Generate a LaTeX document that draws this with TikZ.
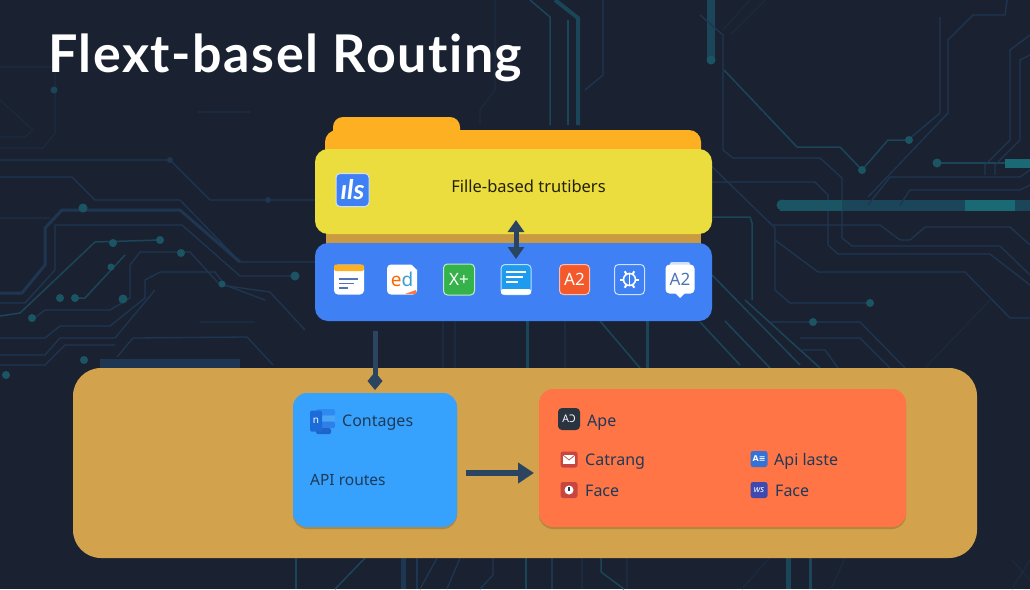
\documentclass[tikz,border=0pt]{standalone}
\usepackage{fontspec}
\setmainfont{Noto Sans}
\newfontfamily\titlefont[LetterSpace=3,Ligatures=NoCommon]{Lato}
\newfontfamily\logofont{Lato}
\newfontfamily\symfont{DejaVu Sans}
\usetikzlibrary{arrows.meta,shadows}
\definecolor{bgc}{HTML}{1A2231}
\definecolor{trblue}{HTML}{1F3652}
\definecolor{trdim}{HTML}{1C2A40}
\definecolor{trteal}{HTML}{1B4558}
\definecolor{dotteal}{HTML}{1B5564}
\definecolor{barc}{HTML}{1A6A75}
\definecolor{arrowc}{HTML}{2B4560}
\definecolor{inkc}{HTML}{1F3A58}
\definecolor{yellowc}{HTML}{ECDD3E}
\definecolor{folderc}{HTML}{FDB022}
\definecolor{stripc}{HTML}{C99A3F}
\definecolor{bluec}{HTML}{3F81F4}
\definecolor{tanc}{HTML}{D2A24C}
\definecolor{apic}{HTML}{36A2FD}
\definecolor{orangec}{HTML}{FF7545}
\definecolor{steelc}{HTML}{4F74B8}
\tikzset{
  tra/.style={draw=trblue,line width=1.3pt,line join=round},
  trb/.style={draw=trdim,line width=1.1pt,line join=round},
  trc/.style={draw=trteal,line width=1.5pt,line join=round},
  trk/.style={draw=trblue,line width=3pt,line join=round},
  pad/.style={fill=dotteal,circle,inner sep=0pt,minimum size=#1},
  pad/.default=8pt,
  panel/.style={inner sep=0pt,outer sep=0pt,rounded corners=13pt},
  cardshadow/.style={drop shadow={shadow xshift=0pt,shadow yshift=-2pt,opacity=.16,fill=black}},
  ico/.style={inner sep=0pt,outer sep=0pt,rounded corners=4pt,minimum width=#1,minimum height=#1,align=center},
  mini/.style={inner sep=0pt,outer sep=0pt,rounded corners=2.5pt,minimum width=17pt,minimum height=16pt},
  lab/.style={anchor=base west,inner sep=0pt,text=inkc,font=\fontsize{16}{18}\selectfont},
  flow/.style={draw=arrowc,line width=5pt},
}
\begin{document}
\begin{tikzpicture}[x=1pt,y=-1pt]
\useasboundingbox (0,0) rectangle (1030,589);
\fill[bgc] (0,0) rectangle (1030,589);
% circuit traces: left
\draw[trb] (0,67)--(55,67)--(55,133)--(43,148)--(0,148);
\draw[trb] (0,100)--(33,130)--(25,137)--(0,137);
\draw[tra] (0,160)--(170,160)--(210,200)--(315,200);
\draw[tra] (0,177)--(72,177)--(95,200)--(180,200)--(240,262)--(315,262);
\draw[trk] (0,293)--(22,293)--(45,265)--(45,228)--(62,210)--(180,210)--(240,262);
\draw[tra] (0,303)--(25,303)--(55,270)--(55,225)--(182,225)--(240,276)--(295,276);
\draw[trb] (0,218)--(50,218);
\draw[trc] (0,316)--(20,313)--(95,242)--(160,240);
\draw[trc] (75,298)--(85,298)--(125,255);
\draw[tra] (32,320)--(45,310)--(110,310)--(130,298)--(130,265)--(140,252)--(190,252)--(220,285)--(270,292)--(305,330);
\draw[tra] (0,338)--(45,338)--(60,326)--(110,326)--(145,298)--(145,280)--(160,272)--(215,272)--(225,285)--(265,300);
\draw[tra] (0,355)--(45,355)--(60,338)--(115,338)--(155,290);
\draw[tra] (0,365)--(45,365)--(65,345)--(115,345);
\draw[tra] (117,357)--(133,338)--(247,337)--(273,365);
\draw[draw=trblue,line width=9pt] (100,363)--(240,363);
\draw[trb] (200,322)--(255,322);
\draw[trb] (198,112)--(250,112);
\node[pad=6pt,fill=trblue] (l1) at (170,160) {};
\node[pad=6pt,fill=trblue] (l2) at (268,200) {};
\node[pad=9pt] (l3) at (83,208) {};
\node[pad=8pt] (l4) at (113,243) {};
\node[pad=8pt] (l5) at (160,240) {};
\node[pad=7pt] (l6) at (111,267) {};
\node[pad=8pt] (l7) at (60,298) {};
\node[pad=8pt] (l8) at (75,298) {};
\node[pad=9pt] (l9) at (123,299) {};
\node[pad=8pt] (l10) at (32,318) {};
\node[pad=8pt] (l11) at (181,253) {};
\node[pad=7pt] (l12) at (222,284) {};
\node[pad=9pt] (l13) at (295,276) {};
\node[pad=7pt,fill=trteal] (l14) at (54,90) {};
\node[pad=8pt] (l15) at (84,360) {};
\node[pad=8pt] (l16) at (6,375) {};
% right
\draw[trc] (724,70)--(797,147)--(840,147)--(862,170)--(888,140)--(908,140);
\draw[draw=trteal,line width=8pt] (711,0)--(711,60);
\draw[tra] (700,15)--(723,35)--(723,150)--(733,158)--(820,158)--(842,178)--(842,238)--(852,246)--(1000,246)--(1030,275);
\draw[tra] (700,182)--(815,182)--(828,195)--(828,245)--(838,254)--(990,254)--(1030,285);
\draw[trb] (730,35)--(765,0);
\draw[trb] (750,0)--(723,30);
\draw[draw=trteal,line width=11pt] (780,205)--(1030,205);
\draw[draw=dotteal,line width=11pt] (780,205)--(842,205);
\draw[draw=barc,line width=11pt] (965,205)--(1015,205);
\draw[trc] (937,163)--(1005,163);
\draw[draw=barc,line width=9pt] (1005,163)--(1030,163);
\draw[tra] (868,205)--(890,177)--(1020,177)--(1030,170);
\draw[tra] (900,205)--(910,190)--(1020,190)--(1030,185);
\draw[tra] (773,225)--(880,225)--(900,240)--(910,240)--(925,227)--(1010,227)--(1030,245);
\draw[trc] (713,217)--(750,217)--(752,223)--(752,300);
\draw[tra] (700,155)--(775,228)--(775,290)--(790,303)--(870,303);
\draw[tra] (775,240)--(818,272)--(965,272)--(1010,318)--(1030,318);
\draw[trc] (712,275)--(800,365);
\draw[trc] (700,322)--(740,365);
\draw[trc] (745,300)--(820,368);
\draw[tra] (770,322)--(860,322)--(905,368);
\draw[tra] (800,338)--(860,338)--(890,368);
\draw[tra] (800,350)--(825,350)--(838,368);
\draw[trb] (925,368)--(990,300);
\draw[tra] (1007,0)--(1005,15)--(973,15)--(948,40)--(948,113)--(868,197);
\draw[tra] (940,17)--(940,113)--(908,140);
\draw[tra] (1030,35)--(1010,50)--(1010,140)--(985,165)--(985,175);
\draw[tra] (1030,55)--(1020,60)--(1020,140)--(995,165)--(995,175);
\node[pad=9pt] (r1) at (711,60) {};
\node[pad=8pt] (r2) at (862,170) {};
\node[pad=8pt] (r3) at (909,140) {};
\node[pad=9pt] (r4) at (937,163) {};
\node[pad=11pt] (r5) at (782,205) {};
\node[pad=8pt] (r6) at (870,303) {};
\node[pad=8pt] (r7) at (813,322) {};
% centre
\draw[trb] (495,0)--(495,90)--(480,110)--(480,125);
\draw[trc] (530,0)--(550,17)--(550,125);
\draw[draw=trteal,line width=4pt] (555,0)--(578,18)--(578,125);
\draw[trc] (568,20)--(568,125);
\draw[tra] (603,0)--(603,75)--(585,90);
\draw[trb] (443,321)--(443,368);
\draw[trb] (455,321)--(455,368);
\draw[draw=trteal,line width=3pt] (527,321)--(527,368);
\draw[trb] (565,321)--(565,368);
\draw[trc] (600,321)--(640,368);
\draw[draw=trteal,line width=3pt] (647,321)--(647,368);
\draw[trc] (725,321)--(770,368);
% bottom strip
\draw[trc] (296,558)--(296,589);
\draw[trc] (365,558)--(335,589);
\draw[draw=trblue,line width=5pt] (403,558)--(403,589);
\draw[tra] (417,558)--(417,589);
\draw[tra] (437,558)--(420,589);
\draw[tra] (460,558)--(447,589);
\draw[tra] (493,558)--(493,575)--(480,589);
\draw[trc] (526,558)--(526,589);
\draw[tra] (552,558)--(552,589);
\draw[trb] (582,558)--(582,589);
\draw[trc] (601,558)--(601,572)--(624,589);
\draw[trb] (627,558)--(627,589);
\draw[trb] (769,558)--(742,589);
\draw[draw=trteal,line width=5pt] (788,558)--(788,589);
\draw[draw=trteal,line width=3pt] (810,558)--(810,589);
\draw[trb] (845,558)--(831,589);
\draw[trb] (1012,560)--(1030,580);
\draw[trb] (1030,560)--(1012,589);
% title
\node[anchor=base west,inner sep=0pt,text=white,font=\titlefont\bfseries\fontsize{52}{60}\selectfont] (title) at (48,72) {Flext-basel Routing};
% folder
\fill[folderc,rounded corners=10pt] (333,140)--(333,117)--(460,117)--(460,140)--cycle;
\fill[folderc,rounded corners=12pt] (325,200)--(325,130)--(701,130)--(701,200)--cycle;
\fill[folderc] (350,130) rectangle (470,140);
\fill[stripc] (326,225) rectangle (701,250);
\node[panel,fill=yellowc,minimum width=397pt,minimum height=85pt] (files) at (513.5,191.5) {};
\node[panel,fill=bluec,minimum width=397pt,minimum height=78pt] (tools) at (513.5,282) {};
\node[ico=33pt,fill=bluec,draw=white!75!bluec,line width=1pt,text=white,font=\logofont\bfseries\itshape\fontsize{27}{28}\selectfont] (ilsicon) at (352.5,190) {ıls};
\node[anchor=center,inner sep=0pt,text=black!85!yellowc,font=\fontsize{16.5}{18}\selectfont] (filestext) at (528.5,186) {Fille-based trutibers};
% tool icons
\node[ico=30pt,fill=white] (i1) at (349,279.5) {};
\fill[folderc,rounded corners=2pt] (334,264.5) rectangle (364,271);
\draw[steelc,line width=1.4pt] (339,279)--(358,279) (339,283.5)--(354,283.5) (339,288)--(348,288);
\node[ico=30pt,fill=white] (i2) at (402,279.5) {\fontsize{19}{20}\selectfont\textcolor{orange!80!red}{e}\textcolor{steelc!70!cyan}{d}};
\fill[orangec] (416,290)--(416,294)--(405,294)--cycle;
\fill[bluec] (417,264)--(411,264)--(417,270)--cycle;
\definecolor{ggreen}{HTML}{36B24A}
\definecolor{gsky}{HTML}{1E9BEF}
\definecolor{gred}{HTML}{F4592B}
\node[ico=31pt,fill=ggreen,draw=white!70!ggreen,line width=1pt,text=white,font=\fontsize{17}{18}\selectfont] (i3) at (459,279.5) {X+};
\node[ico=30pt,fill=gsky,draw=white!70!gsky,line width=1pt] (i4) at (516,279.5) {};
\draw[white,line width=1.4pt] (506,272)--(526,272) (506,277)--(523,277) (506,282)--(518,282);
\fill[white,rounded corners=2pt] (501,289) rectangle (531,294.5);
\node[ico=30pt,fill=gred,draw=white!60!gred,line width=1pt,text=white,font=\fontsize{17}{18}\selectfont] (i5) at (574.5,279.5) {A2};
\node[ico=30pt,fill=bluec,draw=white!75!bluec,line width=1pt] (i6) at (629.5,279.5) {};
\begin{scope}[shift={(629.5,279.5)}]
\draw[white,line width=1.6pt] (0,0) circle (6);
\foreach \a in {0,60,...,300} \draw[white,line width=2pt] (\a:6)--(\a:9.5);
\draw[white,line width=1.4pt] (0,-6)--(0,6);
\end{scope}
\fill[white!75!bluec,rounded corners=2pt] (670,262) rectangle (690,270);
\fill[white] (672,290)--(680,298)--(688,290)--cycle;
\node[ico=29pt,fill=white,text=steelc,font=\fontsize{17}{18}\selectfont] (i7) at (680,279) {A2};
% lower band
\node[panel,rounded corners=28pt,fill=tanc,minimum width=904pt,minimum height=190pt] (band) at (525,463) {};
\node[panel,rounded corners=14pt,fill=apic,minimum width=164pt,minimum height=134pt,cardshadow] (apicard) at (375,460) {};
\node[panel,rounded corners=14pt,fill=orangec,minimum width=367pt,minimum height=138pt,cardshadow] (appcard) at (722.5,458) {};
% contages icon
\definecolor{cA}{HTML}{2F8AF0}
\definecolor{cB}{HTML}{4AA6F5}
\definecolor{cC}{HTML}{2E7FE8}
\definecolor{cD}{HTML}{1F64C8}
\definecolor{cE}{HTML}{1B6CD8}
\fill[cA,rounded corners=1.5pt] (316,409) rectangle (335,415.5);
\fill[cB,rounded corners=1.5pt] (316,415.5) rectangle (335,421.5);
\fill[cC,rounded corners=1.5pt] (316,421.5) rectangle (335,428);
\fill[cD,rounded corners=1.5pt] (316,428) rectangle (331,434);
\node[inner sep=0pt,minimum width=12pt,minimum height=21pt,rounded corners=1.5pt,fill=cE,text=white,font=\fontsize{10}{10}\selectfont] (contagesicon) at (316,421) {n};
\node[lab] (contages) at (342,426) {Contages};
\node[lab,font=\fontsize{15.5}{18}\selectfont] (routes) at (310,485) {API routes};
% app card rows
\definecolor{mred}{HTML}{C9453F}
\definecolor{mblue}{HTML}{3572D8}
\definecolor{mind}{HTML}{3E4AAF}
\definecolor{mdark}{HTML}{2A3340}
\node[ico=22pt,fill=mdark,text=white,font=\fontsize{10.5}{11}\selectfont] (apeicon) at (569,419) {AƆ};
\node[lab] (ape) at (587,426) {Ape};
\node[mini,fill=mred] (mailicon) at (569,459.5) {};
\fill[white] (563,455) rectangle (575,464);
\draw[mred,line width=.7pt] (563,455)--(569,460)--(575,455);
\node[lab] (catrang) at (585,465) {Catrang};
\node[mini,fill=mred] (clockicon) at (569,490) {};
\fill[white] (569,490) circle (4.5);
\fill[inkc] (568.3,487) rectangle (569.7,491);
\node[lab] (face1) at (585,496) {Face};
\node[mini,fill=mblue,text=white,font=\symfont\bfseries\fontsize{8}{9}\selectfont] (apiicon) at (759,459) {A≡};
\node[lab] (apilaste) at (774,465) {Api laste};
\node[mini,fill=mind,text=white,font=\bfseries\itshape\fontsize{9}{9}\selectfont] (wsicon) at (759,490) {ws};
\node[lab] (face2) at (775,496) {Face};
% connectors
\coordinate (dblA) at (516,220);
\coordinate (dblB) at (516,259);
\draw[flow,{Triangle[length=12pt,width=16pt]}-{Triangle[length=12pt,width=16pt]}] (dblA)--(dblB);
\coordinate (downA) at (375,331);
\coordinate (downB) at (375,390);
\draw[flow,-{Diamond[length=18pt,width=15pt]}] (downA)--(downB);
\coordinate (rightA) at (466,473);
\coordinate (rightB) at (534,473);
\draw[flow,line width=5.5pt,-{Triangle[length=16pt,width=20pt]}] (rightA)--(rightB);
\end{tikzpicture}
\end{document}
